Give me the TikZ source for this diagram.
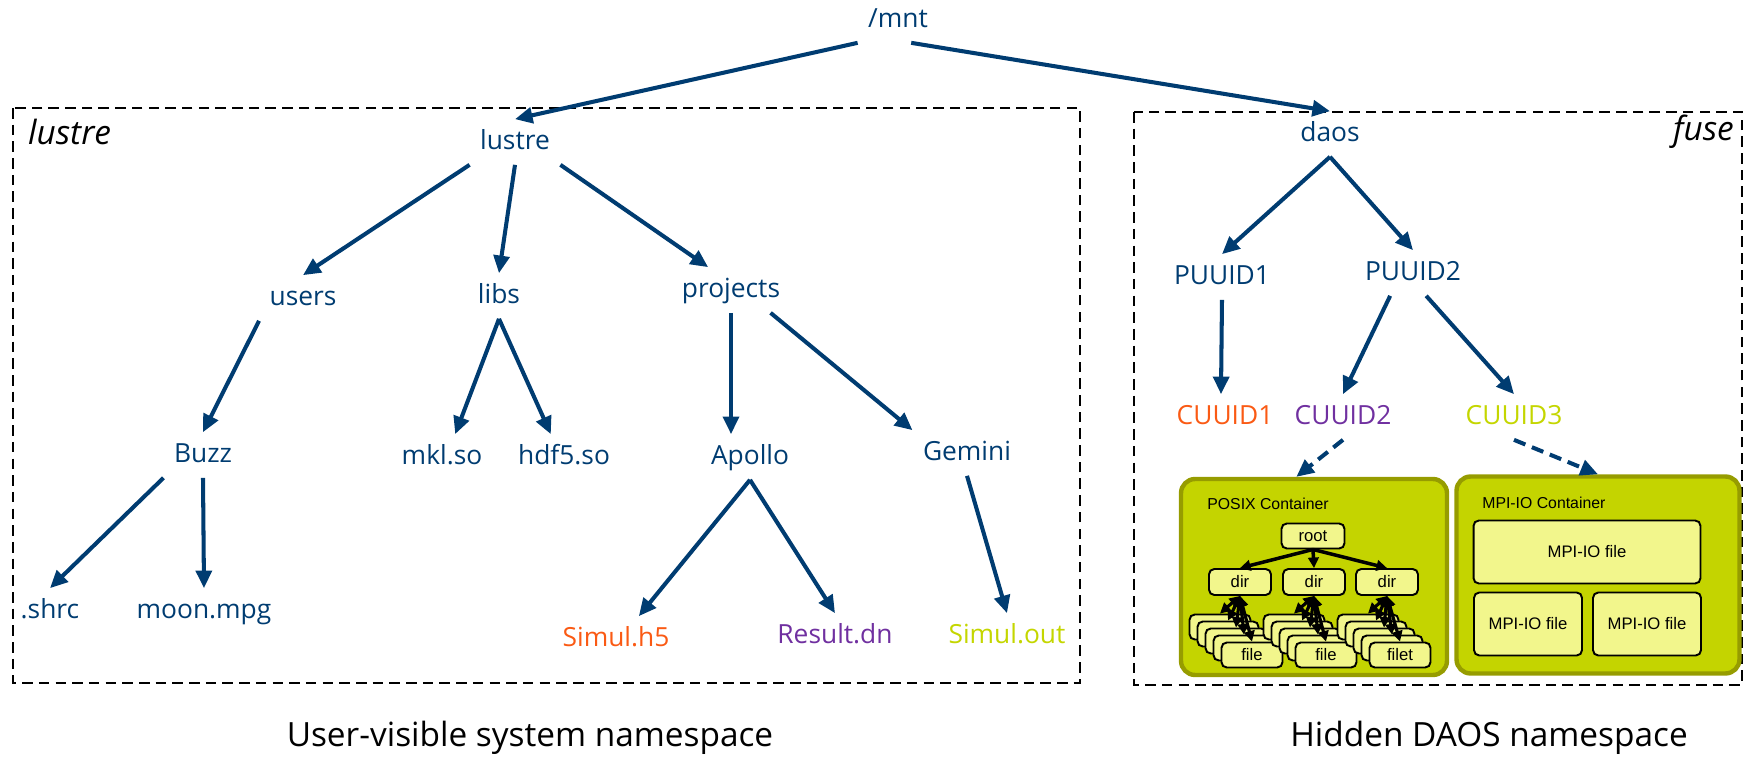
\documentclass[tikz,border=0pt]{standalone}
\usepackage{fontspec}
\setmainfont{Open Sans}
\newfontfamily\arialfont{Liberation Sans}
\usetikzlibrary{arrows.meta,positioning}
\definecolor{navy}{RGB}{0,60,113}
\definecolor{fileorange}{RGB}{250,90,20}
\definecolor{filepurple}{RGB}{112,48,160}
\definecolor{filelime}{RGB}{196,214,0}
\definecolor{contfill}{RGB}{196,212,0}
\definecolor{contborder}{RGB}{150,156,0}
\definecolor{objfill}{RGB}{242,246,140}
\tikzset{entry/.style={font=\fontsize{15}{18}\selectfont,text=navy,text height=11pt,text depth=3pt,inner sep=4pt,outer sep=2pt}}
\tikzset{link/.style={color=navy,line width=2.3pt,-{Triangle[length=10pt,width=9pt]}}}
\tikzset{hidden link/.style={link,dash pattern=on 7pt off 4pt}}
\tikzset{region/.style={draw,line width=1.3pt,dash pattern=on 6pt off 3.5pt}}
\tikzset{caption/.style={font=\fontsize{19}{22}\selectfont}}
\tikzset{cont/.style={draw=contborder,fill=contfill,line width=2.5pt,rounded corners=8pt}}
\tikzset{obj/.style={draw,fill=objfill,line width=1.1pt,rounded corners=3pt,inner sep=0pt,font=\arialfont\fontsize{9.5}{11}\selectfont}}
\tikzset{filebox/.style={obj,minimum width=1.22cm,minimum height=0.5cm}}
\tikzset{dirbox/.style={obj,minimum width=1.24cm,minimum height=0.52cm}}
\tikzset{posix link/.style={line width=2pt,-{Triangle[length=6pt,width=6pt]}}}
\tikzset{posix both/.style={line width=1.8pt,{Triangle[length=6pt,width=6pt]}-{Triangle[length=6pt,width=6pt]}}}

\begin{document}
\begin{tikzpicture}[x=0.02cm,y=-0.02cm]
  \useasboundingbox (0,0) rectangle (1749,760);

  % namespace regions
  \draw[region] (13,108) rectangle (1080,683);
  \draw[region] (1134,112) rectangle (1742,685);
  \node[caption,font=\fontsize{19}{22}\selectfont\itshape,anchor=west] (lustretag) at (22,132) {lustre};
  \node[caption,font=\fontsize{19}{22}\selectfont\itshape,anchor=east] (fusetag) at (1740,132) {fuse};

  % lustre tree
  \node[entry] (mnt) at (898,20) {/mnt};
  \node[entry] (lustre) at (515,142) {lustre};
  \node[entry] (users) at (303,298) {users};
  \node[entry] (libs) at (499,296) {libs};
  \node[entry] (projects) at (731,290) {projects};
  \node[entry] (buzz) at (203,455) {Buzz};
  \node[entry] (mkl) at (442,457) {mkl.so};
  \node[entry] (hdf) at (564,457) {hdf5.so};
  \node[entry] (apollo) at (750,457) {Apollo};
  \node[entry] (gemini) at (967,453) {Gemini};
  \node[entry] (shrc) at (50,611) {.shrc};
  \node[entry] (moon) at (204,611) {moon.mpg};
  \node[entry,text=fileorange] (simulh) at (616,639) {Simul.h5};
  \node[entry,text=filepurple] (result) at (835,636) {Result.dn};
  \node[entry,text=filelime] (simulout) at (1007,636) {Simul.out};

  % daos tree
  \node[entry] (daos) at (1330,134) {daos};
  \node[entry] (puuidA) at (1222,277) {PUUID1};
  \node[entry] (puuidB) at (1413,273) {PUUID2};
  \node[entry,text=fileorange] (cuuidA) at (1225,417) {CUUID1};
  \node[entry,text=filepurple] (cuuidB) at (1343,417) {CUUID2};
  \node[entry,text=filelime] (cuuidC) at (1514,417) {CUUID3};

  \path[link]
    (mnt.south west) edge (lustre.north)
    (mnt.-60) edge (daos.north)
    (lustre.south west) edge (users.north)
    (lustre.south) edge (libs.north)
    (lustre.south east) edge (projects.135)
    (users.south west) edge (buzz.north)
    (libs.south) edge (mkl.60)
    (libs.south) edge (hdf.120)
    (projects.south) edge (projects.south |- apollo.north)
    (projects.-30) edge (gemini.north west)
    (buzz.south west) edge (shrc.north)
    (buzz.south) edge (moon.north)
    (apollo.south) edge (simulh.45)
    (apollo.south) edge (result.north)
    (gemini.south) edge (simulout.north)
    (daos.south) edge (puuidA.north)
    (daos.south) edge (puuidB.north)
    (puuidA.south) edge (cuuidA.100)
    (puuidB.-135) edge (cuuidB.north)
    (puuidB.-60) edge (cuuidC.north);

  % containers
  \node[cont,minimum width=5.32cm,minimum height=3.92cm] (posix) at (1314,577) {};
  \node[cont,minimum width=5.66cm,minimum height=3.94cm] (mpi) at (1598,575) {};
  \node[font=\arialfont\fontsize{9}{11}\selectfont,anchor=west,inner sep=0pt] (posixtag) at (1207,504) {POSIX Container};
  \node[font=\arialfont\fontsize{9}{11}\selectfont,anchor=west,inner sep=0pt] (mpitag) at (1482,503) {MPI-IO Container};

  \path[hidden link]
    (cuuidB.south) edge (posix.100)
    (cuuidC.south) edge (mpi.north);

  % posix container
  \node[obj,minimum width=1.26cm,minimum height=0.5cm] (root) at (1313,536) {root};
  \node[dirbox] (dir1) at (1240,582) {dir};
  \node[dirbox] (dir2) at (1314,582) {dir};
  \node[dirbox] (dir3) at (1387,582) {dir};
  \foreach \d/\x/\t in {1/1252/file,2/1326/file,3/1400/filet}{
    \foreach \k in {4,3,2,1}
      \node[filebox] (f\d\k) at ({\x-8*\k},{655-7*\k}) {};
    \node[filebox] (f\d0) at (\x,655) {\t};
  }
  \foreach \d in {1,2,3}
    \draw[posix link] (root.south) -- (dir\d.north);
  \foreach \d in {1,2,3}
    \foreach \k in {0,...,4}
      \draw[posix both] (dir\d.south) -- (f\d\k.north);

  % mpi-io container
  \node[obj,minimum width=4.54cm,minimum height=1.26cm] (mpifile) at (1587,552) {MPI-IO file};
  \node[obj,minimum width=2.16cm,minimum height=1.26cm] (mpifileA) at (1528,624) {MPI-IO file};
  \node[obj,minimum width=2.16cm,minimum height=1.26cm] (mpifileB) at (1647,624) {MPI-IO file};

  % captions
  \node[caption] (usercap) at (530,738) {User-visible system namespace};
  \node[caption] (daoscap) at (1489,738) {Hidden DAOS namespace};
\end{tikzpicture}
\end{document}
